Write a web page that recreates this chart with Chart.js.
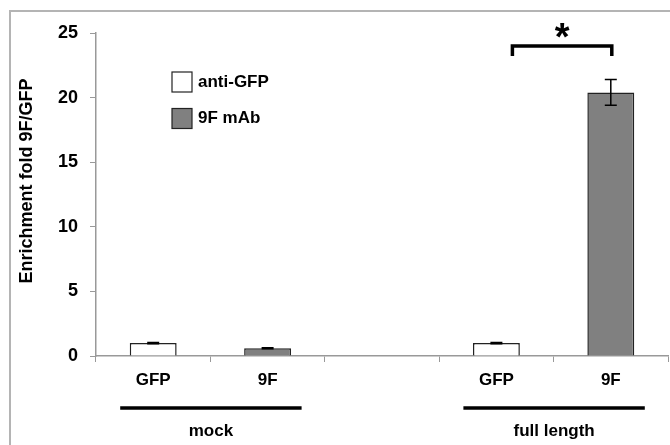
<!DOCTYPE html>
<html>
<head>
<meta charset="utf-8">
<script src="https://cdn.jsdelivr.net/npm/chart.js@4.4.0/dist/chart.umd.min.js"></script>
<style>
  body { margin: 0; background: #fff; }
  #wrap { width: 670px; height: 445px; position: relative; }
</style>
</head>
<body>
<div id="wrap"><canvas id="bar-chart"></canvas></div>
<script>
// data
var categories = ['GFP', '9F', '', 'GFP', '9F'];
var antiGfp = [1.0, null, null, 1.0, null];
var antiGfpErr = [0.05, null, null, 0.05, null];
var mAb9F = [null, 0.6, null, null, 20.4];
var mAb9FErr = [null, 0.03, null, null, 1.0];
var groups = ['mock', 'full length'];
var groupIdx = [[0, 1], [3, 4]];
var sigPairs = [[3, 4]];
var sigLevel = [24.0];
var sigLabel = ['*'];
var yTitle = 'Enrichment fold 9F/GFP';

var FONT = '"Liberation Sans", Arial, sans-serif';

var extras = {
  id: 'extras',
  beforeDraw: function (chart) {
    var ctx = chart.ctx;
    ctx.save();
    ctx.fillStyle = '#fff';
    ctx.fillRect(0, 0, chart.width, chart.height);
    ctx.strokeStyle = '#b4b4b4';
    ctx.lineWidth = 2;
    ctx.strokeRect(10, 11, 700, 500);
    ctx.restore();
  },
  afterDatasetsDraw: function (chart) {
    var ctx = chart.ctx;
    var y = chart.scales.y;
    var errs = [antiGfpErr, mAb9FErr];
    ctx.save();
    ctx.strokeStyle = '#000';
    ctx.lineWidth = 1.5;
    chart.data.datasets.forEach(function (ds, i) {
      var meta = chart.getDatasetMeta(i);
      ds.data.forEach(function (v, j) {
        if (v == null || errs[i][j] == null) return;
        var bx = meta.data[j].x;
        var t = y.getPixelForValue(v + errs[i][j]);
        var b = y.getPixelForValue(v - errs[i][j]);
        ctx.beginPath();
        ctx.moveTo(bx, t); ctx.lineTo(bx, b);
        ctx.moveTo(bx - 6, t); ctx.lineTo(bx + 6, t);
        ctx.moveTo(bx - 6, b); ctx.lineTo(bx + 6, b);
        ctx.stroke();
      });
    });
    ctx.restore();
  },
  afterDraw: function (chart) {
    var ctx = chart.ctx;
    var x = chart.scales.x, y = chart.scales.y;
    ctx.save();
    ctx.fillStyle = '#000';
    ctx.strokeStyle = '#000';

    // y title
    ctx.save();
    ctx.font = 'bold 18px ' + FONT;
    ctx.translate(27, 181);
    ctx.rotate(-Math.PI / 2);
    ctx.textAlign = 'center';
    ctx.textBaseline = 'middle';
    ctx.fillText(yTitle, 0, 0);
    ctx.restore();

    // group lines + labels
    ctx.font = 'bold 17px ' + FONT;
    ctx.lineWidth = 3.5;
    ctx.textAlign = 'center';
    ctx.textBaseline = 'middle';
    groups.forEach(function (g, k) {
      var x0 = x.getPixelForValue(groupIdx[k][0]) - 33;
      var x1 = x.getPixelForValue(groupIdx[k][1]) + 34;
      ctx.beginPath();
      ctx.moveTo(x0, 408); ctx.lineTo(x1, 408);
      ctx.stroke();
      ctx.fillText(g, (x0 + x1) / 2, 431);
    });

    // legend
    ctx.textAlign = 'left';
    ctx.lineWidth = 1.2;
    chart.data.datasets.forEach(function (ds, i) {
      var ly = 72 + i * 36.5;
      ctx.fillStyle = ds.backgroundColor;
      ctx.fillRect(172, ly, 20, 20);
      ctx.strokeStyle = '#222';
      ctx.strokeRect(172, ly, 20, 20);
      ctx.fillStyle = '#000';
      ctx.fillText(ds.label, 198, ly + 10);
    });

    // significance bracket
    ctx.lineWidth = 3.5;
    ctx.strokeStyle = '#000';
    sigPairs.forEach(function (p, k) {
      var x0 = x.getPixelForValue(p[0]) + 16;
      var x1 = x.getPixelForValue(p[1]) + 1;
      var top = y.getPixelForValue(sigLevel[k]);
      ctx.beginPath();
      ctx.moveTo(x0, top + 10);
      ctx.lineTo(x0, top);
      ctx.lineTo(x1, top);
      ctx.lineTo(x1, top + 10);
      ctx.stroke();
      ctx.font = 'bold 38px ' + FONT;
      ctx.textAlign = 'center';
      ctx.textBaseline = 'alphabetic';
      ctx.fillText(sigLabel[k], (x0 + x1) / 2, top + 4);
    });
    ctx.restore();
  }
};

new Chart(document.getElementById('bar-chart'), {
  type: 'bar',
  data: {
    labels: categories,
    datasets: [
      {
        label: 'anti-GFP',
        data: antiGfp,
        backgroundColor: '#ffffff',
        borderColor: '#222222',
        borderWidth: 1.5
      },
      {
        label: '9F mAb',
        data: mAb9F,
        backgroundColor: '#808080',
        borderColor: '#222222',
        borderWidth: 1.5
      }
    ]
  },
  options: {
    responsive: true,
    maintainAspectRatio: false,
    animation: false,
    barPercentage: 0.41,
    categoryPercentage: 1,
    layout: { padding: { left: 10, top: 33, right: 2, bottom: 0 } },
    plugins: {
      legend: { display: false },
      tooltip: { enabled: false },
      title: { display: false }
    },
    scales: {
      x: {
        stacked: true,
        afterFit: function (s) { s.height = 89; },
        border: { color: '#999', width: 1.5 },
        grid: { offset: true, drawOnChartArea: false, drawTicks: true, tickLength: 6, color: '#999' },
        ticks: { color: '#000', padding: 8, font: { family: FONT, size: 17, weight: 'bold' } }
      },
      y: {
        min: 0,
        max: 25,
        afterFit: function (s) { s.width = 86; },
        border: { color: '#999', width: 1.5 },
        grid: { drawOnChartArea: false, drawTicks: true, tickLength: 6, color: '#999' },
        ticks: { stepSize: 5, color: '#000', padding: 12, font: { family: FONT, size: 18, weight: 'bold' } }
      }
    }
  },
  plugins: [extras]
});
</script>
</body>
</html>
